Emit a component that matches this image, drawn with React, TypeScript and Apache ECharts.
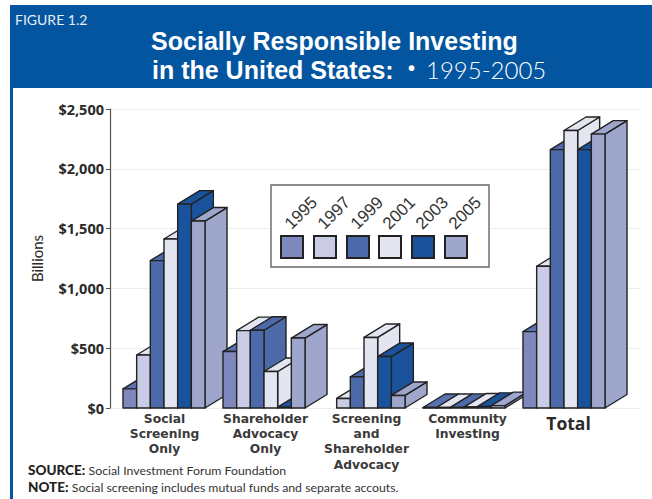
import React, { useEffect, useRef } from "react";
import * as echarts from "echarts";

const years = ["1995", "1997", "1999", "2001", "2003", "2005"];
const categories = [
  "Social\nScreening\nOnly",
  "Shareholder\nAdvocacy\nOnly",
  "Screening\nand\nShareholder\nAdvocacy",
  "Community\nInvesting",
  "Total",
];
const v1995 = [160, 472, 0, 4, 639];
const v1997 = [443, 647, 80, 4, 1185];
const v1999 = [1232, 650, 260, 5, 2160];
const v2001 = [1413, 305, 590, 8, 2320];
const v2003 = [1705, 7, 430, 14, 2160];
const v2005 = [1563, 585, 105, 20, 2290];
const seriesValues = [v1995, v1997, v1999, v2001, v2003, v2005];
const frontColors = ["#7f88bd", "#c9cce4", "#4c6aa9", "#e3e5f0", "#1a529c", "#9fa6cc"];
const topColors = ["#5a72b0", "#e3e5f0", "#4c6aa9", "#e3e5f0", "#1a529c", "#9fa6cc"];
const sideColors = ["#7f88bd", "#c9cce4", "#4c6aa9", "#e3e5f0", "#1a529c", "#9fa6cc"];
const yTicks = [0, 500, 1000, 1500, 2000, 2500];

const BLUE = "#04559f";
const INK = "#2a2a2a";
const FONT = "Lato";
const WIDE = "'Open Sans'";
const LABEL = "'DejaVu Sans'";
const TITLE = "'Liberation Sans'";

function cuboid(i: number) {
  return (_p: any, api: any) => {
    const cat = api.value(0);
    const val = api.value(1);
    if (!val) return null;
    const top = api.coord([cat, val]);
    const base = api.coord([cat, 0]);
    const band = api.size([1, 0])[0];
    const w = band * 0.1367;
    const x0 = top[0] - 3 * w + i * w;
    const x1 = x0 + w;
    const dx = 22;
    const dy = -13.5;
    const z2 = cat * 10 + i;
    const line = { stroke: "#222222", lineWidth: 1.4, lineJoin: "round" };
    return {
      type: "group",
      children: [
        {
          type: "polygon",
          z2,
          shape: { points: [[x1, top[1]], [x1 + dx, top[1] + dy], [x1 + dx, base[1] + dy], [x1, base[1]]] },
          style: { fill: sideColors[i], ...line },
        },
        {
          type: "polygon",
          z2,
          shape: { points: [[x0, top[1]], [x0 + dx, top[1] + dy], [x1 + dx, top[1] + dy], [x1, top[1]]] },
          style: { fill: topColors[i], ...line },
        },
        {
          type: "rect",
          z2,
          shape: { x: x0, y: top[1], width: w, height: base[1] - top[1] },
          style: { fill: frontColors[i], ...line },
        },
      ],
    };
  };
}

export default function App() {
  const ref = useRef<HTMLDivElement>(null);
  useEffect(() => {
    document.body.style.margin = "0";
    const chart = echarts.init(ref.current!, undefined, { renderer: "svg" });
    const plot = { top: 109, height: 299 };
    const legendSwatchX = [281, 314, 347, 379, 412, 445];
    chart.setOption({
      animation: false,
      backgroundColor: "#ffffff",
      textStyle: { fontFamily: FONT },
      grid: [
        { left: 114, width: 500, ...plot },
        { left: 110, width: 530, ...plot },
        { left: 114, width: 505, ...plot },
      ],
      xAxis: [
        { type: "category", gridIndex: 0, data: categories, show: false },
        { type: "category", gridIndex: 1, data: categories, show: false },
        {
          type: "category",
          gridIndex: 2,
          data: categories,
          axisLine: { show: false },
          axisTick: { show: false },
          axisLabel: {
            interval: 0,
            margin: 3,
            formatter: (v: string) =>
              v === "Total" ? `{t|${v}}` : v.split("\n").map((l) => `{a|${l}}`).join("\n"),
            rich: {
              a: { fontFamily: LABEL, fontWeight: 700, fontSize: 12.3, lineHeight: 15.3, color: "#3a3a3a" },
              t: { fontFamily: WIDE, fontWeight: 700, fontSize: 17.5, lineHeight: 24, color: "#2a2a2a" },
            },
          },
        },
      ],
      yAxis: [
        { type: "value", gridIndex: 0, min: 0, max: 2500, interval: 500, show: false },
        {
          type: "value",
          gridIndex: 1,
          min: 0,
          max: 2500,
          interval: 500,
          axisLine: { show: true, lineStyle: { color: "#555555", width: 1.2 } },
          axisTick: { show: true, length: 4, lineStyle: { color: "#555555" } },
          splitLine: { lineStyle: { color: "#eeeeee", width: 1 } },
          axisLabel: {
            margin: 6,
            fontFamily: WIDE,
            fontWeight: 700,
            fontSize: 14.5,
            color: INK,
            formatter: (v: number) => "$" + v.toLocaleString("en-US"),
            customValues: yTicks,
          },
          name: "Billions",
          nameLocation: "middle",
          nameRotate: 90,
          nameGap: 66,
          nameTextStyle: { fontFamily: FONT, fontSize: 15, color: INK },
        },
        { type: "value", gridIndex: 2, min: 0, max: 2500, interval: 500, show: false },
      ],
      series: years.map((y, i) => ({
        type: "custom",
        name: y,
        xAxisIndex: 0,
        yAxisIndex: 0,
        clip: false,
        z: 5,
        encode: { x: 0, y: 1 },
        data: seriesValues[i].map((v, c) => [c, v]),
        renderItem: cuboid(i),
      })),
      graphic: [
        { type: "rect", z: 1, shape: { x: 10, y: 5, width: 642, height: 83 }, style: { fill: BLUE } },
        { type: "rect", z: 1, shape: { x: 10, y: 5, width: 3, height: 494 }, style: { fill: BLUE } },
        { type: "text", z: 2, x: 15, y: 12, style: { text: "FIGURE 1.2", fill: "#e8eef6", font: `14px ${FONT}` } },
        {
          type: "text",
          z: 2,
          x: 334.5,
          y: 28,
          style: { text: "Socially Responsible Investing", fill: "#ffffff", font: `700 25px ${TITLE}`, textAlign: "center" },
        },
        {
          type: "text",
          z: 2,
          x: 152,
          y: 57,
          style: { text: "in the United States:", fill: "#ffffff", font: `700 25px ${TITLE}` },
        },
        {
          type: "text",
          z: 2,
          x: 408,
          y: 58,
          style: { text: "•", fill: "#ffffff", font: `700 20px ${TITLE}` },
        },
        {
          type: "text",
          z: 2,
          x: 426,
          y: 57.5,
          style: { text: "1995-2005", fill: "#ffffff", font: `300 24px ${FONT}` },
        },
        {
          type: "rect",
          z: 10,
          shape: { x: 271, y: 185, width: 218, height: 82 },
          style: { fill: "#ffffff", stroke: "#666666", lineWidth: 1.4 },
        },
        ...years.flatMap((y, i) => [
          {
            type: "rect",
            z: 11,
            shape: { x: legendSwatchX[i], y: 236, width: 22, height: 22 },
            style: { fill: frontColors[i], stroke: "#222222", lineWidth: 2 },
          },
          {
            type: "text",
            z: 11,
            x: legendSwatchX[i] + 20,
            y: 213,
            rotation: Math.PI / 4,
            style: {
              text: y,
              fill: "#333333",
              font: "17px 'Liberation Sans'",
              textAlign: "center",
              textVerticalAlign: "middle",
            },
          },
        ]),
        {
          type: "text",
          z: 2,
          x: 28,
          y: 463,
          style: {
            text: "{b|SOURCE:} {n|Social Investment Forum Foundation}",
            rich: {
              b: { fill: "#222222", font: `900 13.5px ${FONT}` },
              n: { fill: "#333333", font: `12.3px ${FONT}` },
            },
          },
        },
        {
          type: "text",
          z: 2,
          x: 28,
          y: 480,
          style: {
            text: "{b|NOTE:} {n|Social screening includes mutual funds and separate accouts.}",
            rich: {
              b: { fill: "#222222", font: `900 13.5px ${FONT}` },
              n: { fill: "#333333", font: `12.3px ${FONT}` },
            },
          },
        },
      ],
    });
    return () => chart.dispose();
  }, []);
  return <div ref={ref} style={{ width: 652, height: 499 }} />;
}
